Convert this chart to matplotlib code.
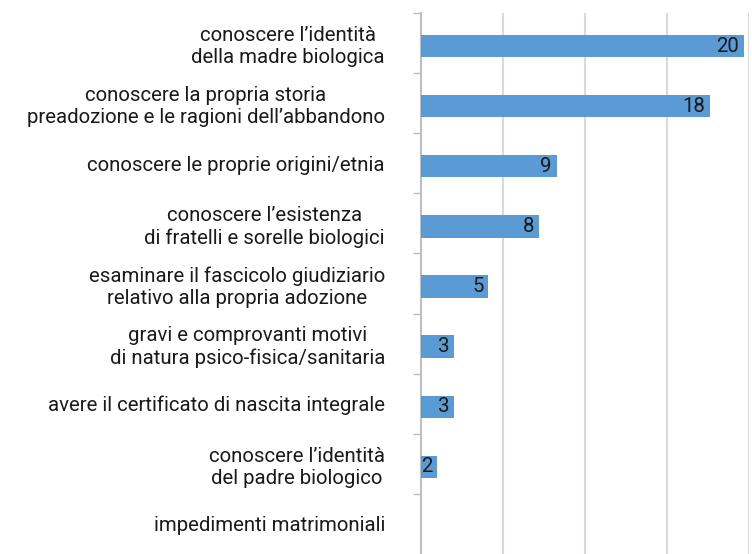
import matplotlib
matplotlib.use('Agg')
import matplotlib.pyplot as plt
import numpy as np

categories = [
    'conoscere l\u2019identità\ndella madre biologica',
    'conoscere la propria storia\npreadozione e le ragioni dell\u2019abbandono',
    'conoscere le proprie origini/etnia',
    'conoscere l\u2019esistenza\ndi fratelli e sorelle biologici',
    'esaminare il fascicolo giudiziario\nrelativo alla propria adozione',
    'gravi e comprovanti motivi\ndi natura psico-fisica/sanitaria',
    'avere il certificato di nascita integrale',
    'conoscere l\u2019identità\ndel padre biologico',
    'impedimenti matrimoniali',
]
values = [20, 18, 9, 8, 5, 3, 3, 2, 0]

bar_color = '#5B9BD5'
grid_color = '#D9D9D9'
axis_color = '#BFBFBF'
text_color = '#1a1a1a'
fsize = 14.7

plt.rcParams['font.family'] = ['Roboto', 'DejaVu Sans']

fig = plt.figure(figsize=(7.52, 5.54), dpi=100)
ax = fig.add_axes([421 / 752, 0, 328 / 752, 1 - 13 / 554])

y = np.arange(len(categories))
bars = ax.barh(y + 0.05, values, height=0.37, color=bar_color, zorder=3)

for yi, v in zip(y, values):
    if v > 0:
        ax.annotate(str(v), (v, yi + 0.05), xytext=(-3.5, 0), textcoords='offset points',
                    ha='right', va='center', fontsize=fsize, color=text_color, zorder=4)

# value axis starts a bit above zero, like the original
xmin, xmax = 1.055, 20.28
ax.set_xlim(xmin, xmax)
ax.set_ylim(len(categories) - 0.5, -0.5)

ax.set_xticks(np.linspace(xmin, xmax, 5)[1:])
ax.set_xticklabels([])
ax.tick_params(axis='x', length=0)
ax.grid(axis='x', color=grid_color, linewidth=1.5, zorder=0)

ax.set_yticks(y)
ax.set_yticklabels(categories, fontsize=fsize, color=text_color,
                   multialignment='center', linespacing=1.2)
ax.tick_params(axis='y', which='major', length=0, pad=26)
ax.set_yticks(np.arange(len(categories)) - 0.5, minor=True)
ax.tick_params(axis='y', which='minor', length=6, color=axis_color, width=1)

for key in ['top', 'right', 'bottom']:
    ax.spines[key].set_visible(False)
ax.spines['left'].set_color(axis_color)
ax.spines['left'].set_linewidth(1.5)

plt.savefig('out.png', dpi=100)
